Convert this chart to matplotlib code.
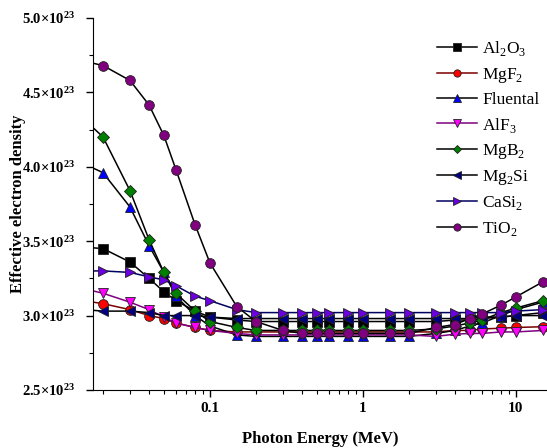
import matplotlib
matplotlib.use("Agg")
import matplotlib.pyplot as plt
from matplotlib.ticker import FixedLocator, NullFormatter, LogLocator
import numpy as np

plt.rcParams['font.family'] = ['Liberation Serif', 'DejaVu Serif']
plt.rcParams['mathtext.fontset'] = 'custom'
plt.rcParams['mathtext.rm'] = 'Liberation Serif'
plt.rcParams['mathtext.bf'] = 'Liberation Serif:bold'

energy = [0.015, 0.02, 0.03, 0.04, 0.05, 0.06, 0.08, 0.1, 0.15, 0.2, 0.3, 0.4, 0.5,
          0.6, 0.8, 1, 1.5, 2, 3, 4, 5, 6, 8, 10, 15]

# values in units of 1e23 electrons/g
al2o3 = [3.46, 3.45, 3.36, 3.25, 3.16, 3.10, 3.03, 2.99, 2.97, 2.96, 2.96, 2.96, 2.96,
         2.96, 2.96, 2.96, 2.96, 2.96, 2.96, 2.97, 2.97, 2.98, 2.99, 3.00, 3.02]
mgf2 = [3.10, 3.08, 3.04, 3.00, 2.98, 2.95, 2.92, 2.90, 2.89, 2.89, 2.89, 2.89, 2.89,
        2.89, 2.89, 2.89, 2.89, 2.89, 2.89, 2.90, 2.90, 2.91, 2.915, 2.92, 2.925]
fluental = [4.02, 3.96, 3.73, 3.47, 3.29, 3.13, 3.00, 2.93, 2.87, 2.86, 2.86, 2.86, 2.86,
            2.86, 2.86, 2.86, 2.86, 2.86, 2.88, 2.90, 2.93, 2.95, 3.00, 3.04, 3.09]
alf3 = [3.18, 3.15, 3.09, 3.04, 2.99, 2.95, 2.92, 2.90, 2.88, 2.87, 2.87, 2.87, 2.87,
        2.87, 2.87, 2.87, 2.87, 2.87, 2.86, 2.875, 2.88, 2.88, 2.89, 2.89, 2.90]
mgb2 = [4.32, 4.20, 3.84, 3.51, 3.29, 3.15, 3.03, 2.96, 2.92, 2.90, 2.90, 2.90, 2.90,
        2.90, 2.90, 2.90, 2.90, 2.90, 2.91, 2.93, 2.95, 2.97, 3.02, 3.05, 3.10]
mg2si = [3.04, 3.03, 3.03, 3.02, 3.00, 3.00, 3.00, 2.99, 2.98, 2.98, 2.98, 2.98, 2.98,
         2.98, 2.98, 2.98, 2.98, 2.98, 2.98, 2.98, 2.98, 2.99, 2.99, 3.00, 3.00]
casi2 = [3.30, 3.30, 3.29, 3.26, 3.24, 3.20, 3.13, 3.10, 3.04, 3.02, 3.02, 3.02, 3.02,
         3.02, 3.02, 3.02, 3.02, 3.02, 3.02, 3.02, 3.02, 3.02, 3.02, 3.03, 3.04]
tio2 = [4.71, 4.68, 4.58, 4.415, 4.21, 3.98, 3.61, 3.354, 3.06, 2.96, 2.90, 2.88, 2.88,
        2.88, 2.88, 2.88, 2.88, 2.88, 2.92, 2.94, 2.98, 3.01, 3.07, 3.125, 3.226]

series = [
    ('Al$_2$O$_3$', al2o3, 's', 'black', 'black'),
    ('MgF$_2$', mgf2, 'o', 'red', '#7a0000'),
    ('Fluental', fluental, '^', '#0000ff', 'black'),
    ('AlF$_3$', alf3, 'v', '#ff00ff', '#800080'),
    ('MgB$_2$', mgb2, 'D', '#008000', 'black'),
    ('Mg$_2$Si', mg2si, '<', '#000080', 'black'),
    ('CaSi$_2$', casi2, '>', '#6a00e0', '#000060'),
    ('TiO$_2$', tio2, 'o', '#800080', 'black'),
]

fig = plt.figure(figsize=(5.47, 4.48), dpi=100)
ax = fig.add_axes([0.170, 0.1295, 0.830, 0.8305])

for name, vals, mk, fc, lc in series:
    ms = 6 if mk == 'D' else 7
    ax.plot(energy, vals, color=lc, lw=1.1, marker=mk, markersize=ms,
            markerfacecolor=fc, markeredgecolor='#202020', markeredgewidth=0.6,
            label=name)

ax.set_xscale('log')
ax.set_xlim(0.0172, 16)
ax.set_ylim(2.5, 5.0)

ax.set_xticks([0.1, 1, 10])
ax.set_xticklabels(['0.1', '1', '10'], fontweight='bold', fontsize=11)
ax.xaxis.set_minor_locator(LogLocator(base=10, subs=np.arange(2, 10), numticks=20))
ax.xaxis.set_minor_formatter(NullFormatter())

yt = [2.5, 3.0, 3.5, 4.0, 4.5, 5.0]
ax.set_yticks(yt)
ax.set_yticklabels([r'$\mathbf{%.1f{\times}10^{23}}$' % v for v in yt], fontsize=10.5)
ax.yaxis.set_minor_locator(FixedLocator([2.75, 3.25, 3.75, 4.25, 4.75]))

ax.tick_params(which='major', direction='out', length=5, width=1)
ax.tick_params(axis='y', which='major', pad=8)
ax.tick_params(which='minor', direction='out', length=3, width=0.8)

for s in ['top', 'right']:
    ax.spines[s].set_visible(False)

ax.set_xlabel('Photon Energy (MeV)', fontweight='bold', fontsize=12, labelpad=12)
ax.set_ylabel('Effective electron density', fontweight='bold', fontsize=12, labelpad=-3)

leg = ax.legend(loc='upper left', bbox_to_anchor=(0.758, 0.942), frameon=False,
                fontsize=12.5, handlelength=2.3, handletextpad=0.3,
                labelspacing=0.42, borderaxespad=0, borderpad=0, markerscale=0.75)

fig.savefig('out.png', dpi=100)
